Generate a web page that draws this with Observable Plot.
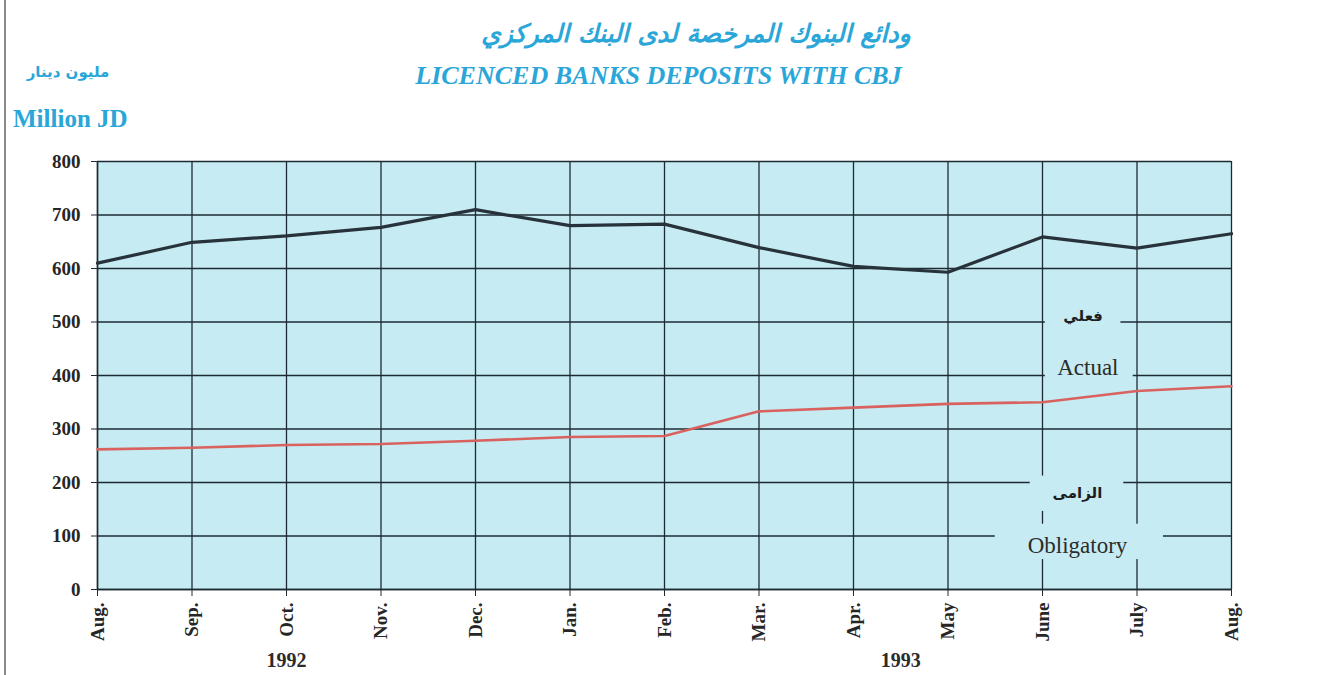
<!DOCTYPE html>
<html>
<head>
<meta charset="utf-8">
<script src="https://cdn.jsdelivr.net/npm/d3@7"></script>
<script src="https://cdn.jsdelivr.net/npm/@observablehq/plot@0.6"></script>
<style>
  html, body { margin: 0; padding: 0; background: #ffffff; }
  #wrap { position: relative; width: 1319px; height: 675px; overflow: hidden; }
  #border { position: absolute; left: 4px; top: 0; width: 2px; height: 675px; background: #8a8a8a; }
  .hd { position: absolute; color: #2aa6d8; white-space: nowrap; }
  #titleAr { left: 0; width: 1392px; top: 19px; text-align: center; font-family: "DejaVu Sans", "Noto Sans", sans-serif; font-weight: bold; font-style: italic; font-size: 25px; direction: rtl; }
  #titleEn { left: 0; width: 1317px; top: 61px; text-align: center; font-family: "Liberation Serif", "DejaVu Serif", serif; font-style: italic; font-weight: bold; font-size: 26px; }
  #unitAr { left: 13px; width: 110px; top: 63px; text-align: center; font-family: "DejaVu Sans", sans-serif; font-weight: bold; font-size: 15px; direction: rtl; }
  #unitEn { left: 13px; top: 105px; font-family: "Liberation Serif", "DejaVu Serif", serif; font-weight: bold; font-size: 25px; }
  #chart { position: absolute; left: 0; top: 135px; }
</style>
</head>
<body>
<div id="wrap">
  <div id="border"></div>
  <div class="hd" id="titleAr">ودائع البنوك المرخصة لدى البنك المركزي</div>
  <div class="hd" id="titleEn">LICENCED BANKS DEPOSITS WITH CBJ</div>
  <div class="hd" id="unitAr">مليون دينار</div>
  <div class="hd" id="unitEn">Million JD</div>
  <div id="chart"></div>
</div>
<script>
const months = ["Aug.", "Sep.", "Oct.", "Nov.", "Dec.", "Jan.", "Feb.", "Mar.", "Apr.", "May", "June", "July", "Aug."];
const actual = [610, 649, 661, 677, 710, 680, 683, 639, 604, 593, 659, 638, 665];
const obligatory = [262, 265, 270, 272, 278, 285, 287, 333, 340, 347, 350, 371, 380];
const yearLabels = ["1992", "1993"];
const yearAt = [2, 8.5];
const yTicks = [0, 100, 200, 300, 400, 500, 600, 700, 800];

const idx = months.map((_, i) => i);
const actualRows = idx.map(i => ({i, v: actual[i]}));
const obligRows = idx.map(i => ({i, v: obligatory[i]}));
const years = yearLabels.map((t, k) => ({t, x: yearAt[k]}));

// legend labels inside the plot (with cleared boxes behind)
const legendLabels = [
  {t: "فعلي", x: 10.43, y: 511, ar: true},
  {t: "Actual", x: 10.48, y: 414, ar: false},
  {t: "الزامى", x: 10.37, y: 180, ar: true},
  {t: "Obligatory", x: 10.37, y: 82, ar: false}
];
const clearBoxes = [
  {x1: 10.03, x2: 10.83, y1: 474, y2: 530},
  {x1: 10.03, x2: 10.96, y1: 380, y2: 455},
  {x1: 9.87, x2: 10.86, y1: 146, y2: 212},
  {x1: 9.50, x2: 11.28, y1: 56, y2: 122}
];

const bg = "#c6ebf3";
const gridColor = "#1e2a33";
const ink = "#262626";

const chart = Plot.plot({
  width: 1319,
  height: 540,
  marginLeft: 97,
  marginRight: 88,
  marginTop: 26,
  marginBottom: 86,
  style: {background: "transparent", fontFamily: "'Liberation Serif', 'DejaVu Serif', serif", color: "#222"},
  x: {type: "linear", domain: [0, 12], label: null},
  y: {domain: [0, 800], label: null},
  marks: [
    Plot.frame({fill: bg, stroke: null}),
    Plot.gridX(idx, {stroke: gridColor, strokeOpacity: 1, strokeWidth: 1.3}),
    Plot.gridY(yTicks, {stroke: gridColor, strokeOpacity: 1, strokeWidth: 1.3}),
    Plot.rect(clearBoxes, {x1: "x1", x2: "x2", y1: "y1", y2: "y2", fill: bg}),
    Plot.axisY({ticks: yTicks, tickSize: 6, tickFormat: () => "", stroke: gridColor}),
    Plot.axisX({ticks: idx, tickSize: 7, tickFormat: () => "", stroke: gridColor}),
    Plot.text(yTicks, {x: 0, y: d => d, text: d => String(d), textAnchor: "end", dx: -17, fontSize: 19, fontWeight: "bold", fill: ink}),
    Plot.text(idx, {x: d => d, y: 0, text: i => months[i], rotate: -90, textAnchor: "end", dy: 13, fontSize: 19, fontWeight: "bold", fill: ink}),
    Plot.ruleY([0], {stroke: gridColor, strokeWidth: 1.5}),
    Plot.ruleX([0], {stroke: gridColor, strokeWidth: 1.5}),
    Plot.line(obligRows, {x: "i", y: "v", stroke: "#d9625f", strokeWidth: 2.6}),
    Plot.line(actualRows, {x: "i", y: "v", stroke: "#27323b", strokeWidth: 3.2}),
    Plot.text(legendLabels.filter(d => !d.ar), {x: "x", y: "y", text: "t", fontSize: 23, fill: "#2b2b2b"}),
    Plot.text(legendLabels.filter(d => d.ar), {x: "x", y: "y", text: "t", fontSize: 15, fontWeight: "bold", fill: "#1e1e1e", fontFamily: "'DejaVu Sans', sans-serif"}),
    Plot.text(years, {x: "x", y: 0, text: "t", dy: 71, fontSize: 20, fontWeight: "bold", fill: "#2b2b2b"})
  ]
});
document.getElementById("chart").appendChild(chart);
</script>
</body>
</html>
